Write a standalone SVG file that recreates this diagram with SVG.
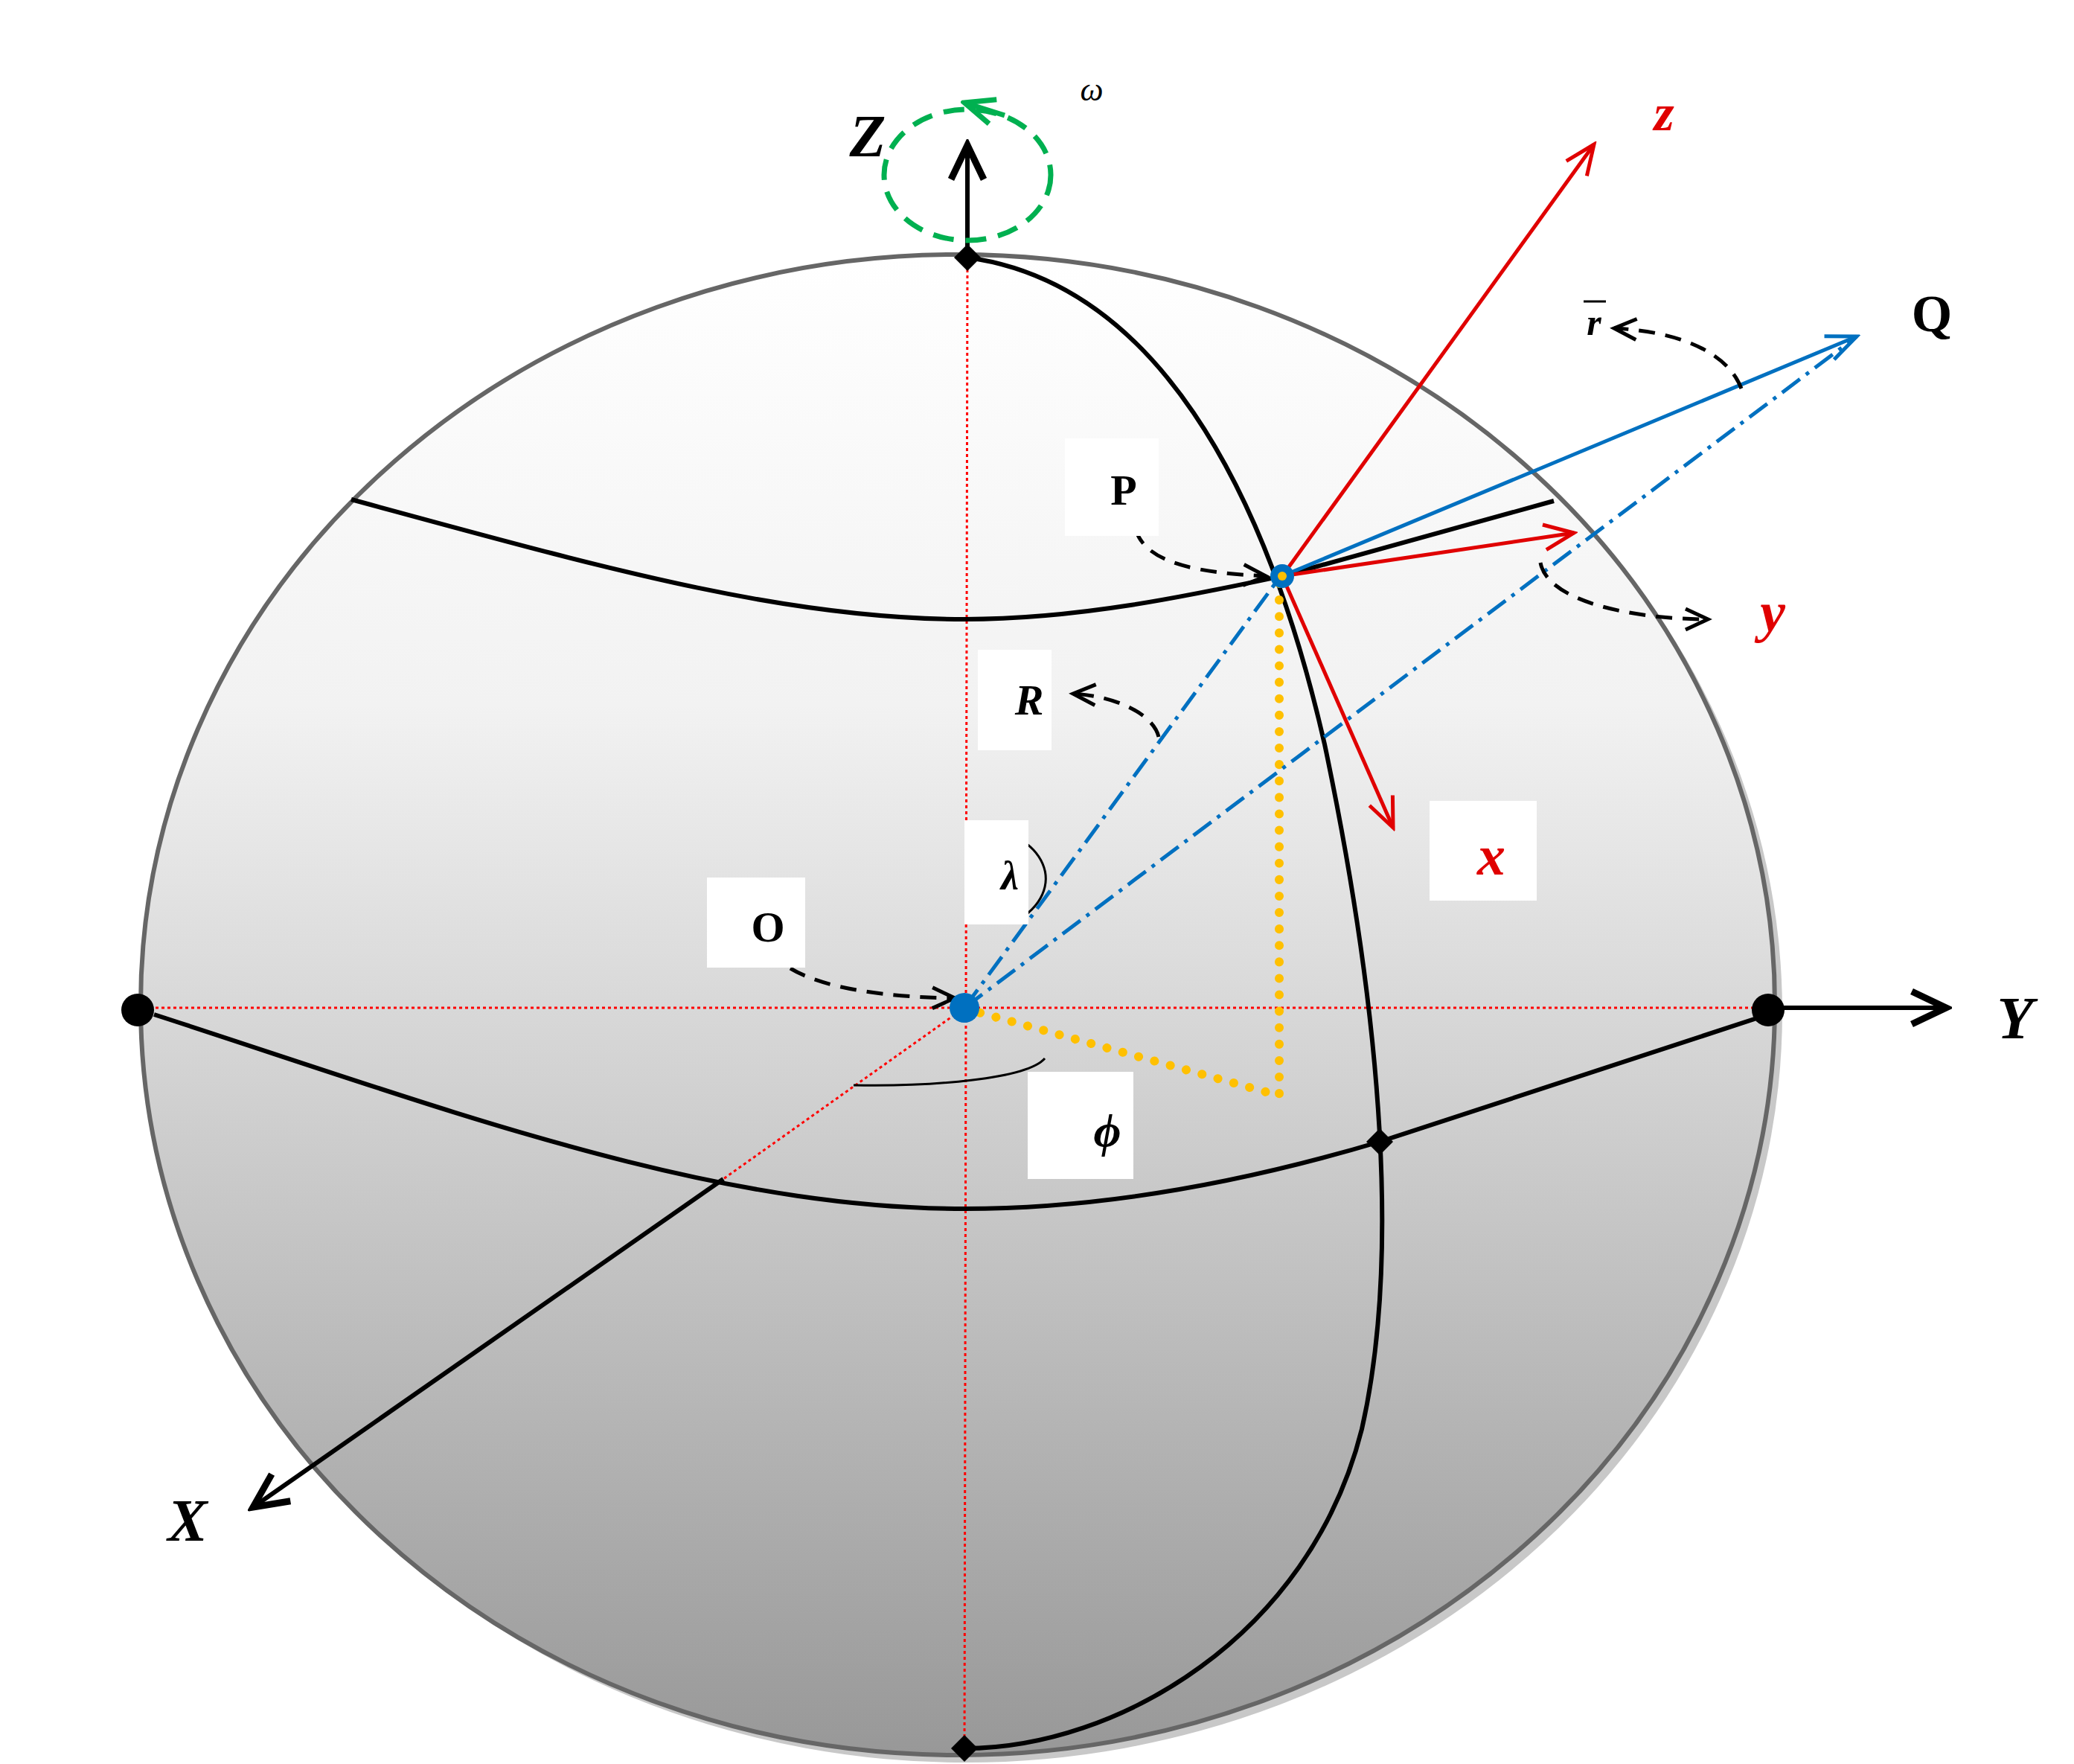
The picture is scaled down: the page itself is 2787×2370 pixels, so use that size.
<svg xmlns="http://www.w3.org/2000/svg" width="2787" height="2370" viewBox="0 0 2787 2370">
<defs>
<linearGradient id="g" x1="0" y1="0" x2="0" y2="1"><stop offset="0" stop-color="#ffffff"/><stop offset="0.3" stop-color="#f2f2f2"/><stop offset="1" stop-color="#989898"/></linearGradient>
<marker id="ar" markerWidth="50" markerHeight="50" refX="45" refY="25" orient="auto" markerUnits="userSpaceOnUse" viewBox="0 0 50 50"><path d="M5,8 L45,25 L5,42" fill="none" stroke="#e00000" stroke-width="5"/></marker>
<marker id="abl" markerWidth="50" markerHeight="50" refX="45" refY="25" orient="auto" markerUnits="userSpaceOnUse" viewBox="0 0 50 50"><path d="M5,8 L45,25 L5,42" fill="none" stroke="#0070c0" stroke-width="5"/></marker>
<marker id="ak" markerWidth="60" markerHeight="60" refX="52" refY="30" orient="auto" markerUnits="userSpaceOnUse" viewBox="0 0 60 60"><path d="M6,8 L52,30 L6,52" fill="none" stroke="#000" stroke-width="9"/></marker>
<marker id="ad" markerWidth="40" markerHeight="40" refX="34" refY="20" orient="auto" markerUnits="userSpaceOnUse" viewBox="0 0 40 40"><path d="M4,6 L34,20 L4,34" fill="none" stroke="#000" stroke-width="5"/></marker>
<marker id="ag" markerWidth="50" markerHeight="50" refX="45" refY="25" orient="auto" markerUnits="userSpaceOnUse" viewBox="0 0 50 50"><path d="M5,8 L45,25 L5,42" fill="none" stroke="#00b050" stroke-width="7"/></marker>
</defs>
<style>
.lbl{font-family:"Liberation Serif",serif;font-weight:bold;font-style:italic}
.box{fill:#fff}
.blk{fill:none;stroke:#000;stroke-width:6}
.dsh{fill:none;stroke:#000;stroke-width:5;stroke-dasharray:22,14}
.red{fill:none;stroke:#e00000;stroke-width:5;marker-end:url(#ar)}
.rdot{fill:none;stroke:#ff0000;stroke-width:3;stroke-dasharray:4,4}
.bdd{fill:none;stroke:#0070c0;stroke-width:5;stroke-dasharray:30,10,5,10}
.yel{fill:none;stroke:#ffc000;stroke-width:12;stroke-dasharray:0.1,22;stroke-linecap:round}
</style>
<rect width="2787" height="2370" fill="#fff"/>
<g id="sphere">
<ellipse cx="1297" cy="1360" rx="1098" ry="1008" fill="#c8c8c8"/>
<ellipse cx="1287" cy="1350" rx="1098" ry="1008" fill="url(#g)" stroke="#666" stroke-width="6"/>
</g>
<g id="connectors">
<path class="rdot" d="M1300,346 L1296,2349" stroke-width="7" stroke-dasharray="5,4"/>
<path class="rdot" d="M185,1354 L2376,1354"/>
<path class="rdot" d="M1296,1354 L972,1584"/>
<path class="blk" d="M1300,346 C1550,380 1700,650 1780,1000 C1860,1380 1880,1700 1830,1920 C1760,2200 1500,2349 1296,2349" stroke-width="5"/>
<path class="blk" d="M472,671 C800,760 1050,832 1296,832 C1450,832 1600,800 1723,774 L2088,673" stroke-width="8"/>
<path class="blk" d="M207,1363 C600,1490 950,1624 1296,1624 C1500,1624 1700,1580 1854,1534 L2376,1363" stroke-width="8"/>
<path class="blk" d="M972,1584 L340,2025" marker-end="url(#ak)" stroke-width="8"/>
<path class="blk" d="M1300,346 L1300,195" marker-end="url(#ak)" stroke-width="8"/>
<path class="blk" d="M2376,1354 L2615,1354" marker-end="url(#ak)" stroke-width="8"/>
<path class="yel" d="M1719,784 L1719,1472 L1300,1356"/>
<path class="bdd" d="M1296,1354 L1715,782"/>
<path class="bdd" d="M1296,1354 L2495,452"/>
<path d="M1723,774 L2495,452" fill="none" stroke="#0070c0" stroke-width="5" marker-end="url(#abl)"/>
<path class="red" d="M1723,774 L2142,194"/>
<path class="red" d="M1723,774 L2115,716"/>
<path class="red" d="M1723,774 L1872,1112"/>
<ellipse cx="1300" cy="235" rx="112" ry="88" fill="none" stroke="#00b050" stroke-width="7" stroke-dasharray="28,16"/>
<path d="M1350,155 L1296,138" fill="none" stroke="#00b050" stroke-width="7" marker-end="url(#ag)"/>
<path class="dsh" d="M1526,711 C1540,760 1620,770 1701,774" marker-end="url(#ad)"/>
<path class="dsh" d="M1557,990 C1550,960 1500,935 1442,932" marker-end="url(#ad)"/>
<path class="dsh" d="M1062,1301 C1110,1330 1200,1340 1283,1341" marker-end="url(#ad)"/>
<path class="dsh" d="M2340,522 C2320,470 2250,445 2169,441" marker-end="url(#ad)"/>
<path class="dsh" d="M2070,756 C2080,810 2200,832 2295,832" marker-end="url(#ad)"/>
<path d="M1300,1111 C1400,1110 1440,1190 1370,1235" fill="none" stroke="#000" stroke-width="3"/>
<path d="M1404,1422 C1380,1450 1250,1460 1147,1458" fill="none" stroke="#000" stroke-width="3"/>
</g>
<g id="points">
<path d="M1300,328 L1318,346 L1300,364 L1282,346Z"/>
<path d="M1296,2331 L1314,2349 L1296,2367 L1278,2349Z"/>
<path d="M1854,1516 L1872,1534 L1854,1552 L1836,1534Z"/>
<circle cx="185" cy="1357" r="22"/>
<circle cx="2376" cy="1357" r="22"/>
<circle cx="1296" cy="1354" r="20" fill="#0070c0"/>
<circle cx="1723" cy="774" r="16" fill="#0070c0"/>
<circle cx="1723" cy="774" r="6" fill="#ffc000"/>
</g>
<g id="labels">
<rect class="box" x="1431" y="589" width="126" height="131"/>
<rect class="box" x="1314" y="873" width="99" height="135"/>
<rect class="box" x="1921" y="1076" width="144" height="134"/>
<rect class="box" x="1296" y="1102" width="86" height="140"/>
<rect class="box" x="950" y="1179" width="132" height="121"/>
<rect class="box" x="1381" y="1440" width="142" height="144"/>
<text class="lbl" x="1166" y="210" font-size="80" text-anchor="middle">Z</text>
<text x="1467" y="135" font-size="44" font-style="italic" font-family="Liberation Serif,serif" text-anchor="middle">ω</text>
<text class="lbl" x="2236" y="175" font-size="70" fill="#e00000" text-anchor="middle">z</text>
<text x="2596" y="445" font-size="70" font-weight="bold" font-family="Liberation Serif,serif" text-anchor="middle">Q</text>
<text class="lbl" x="2142" y="450" font-size="50" text-anchor="middle">r</text>
<path d="M2128,405 L2158,405" stroke="#000" stroke-width="3"/>
<text x="1510" y="678" font-size="58" font-weight="bold" font-family="Liberation Serif,serif" text-anchor="middle">P</text>
<text class="lbl" x="2382" y="848" font-size="76" fill="#e00000" text-anchor="middle">y</text>
<text class="lbl" x="1383" y="960" font-size="58" text-anchor="middle">R</text>
<text class="lbl" x="2004" y="1175" font-size="76" fill="#e00000" text-anchor="middle">x</text>
<text class="lbl" x="1357" y="1195" font-size="54" text-anchor="middle">λ</text>
<text x="1032" y="1265" font-size="58" font-weight="bold" font-family="Liberation Serif,serif" text-anchor="middle">O</text>
<text class="lbl" x="1488" y="1540" font-size="64" text-anchor="middle">ϕ</text>
<text class="lbl" x="2708" y="1395" font-size="80" text-anchor="middle">Y</text>
<text class="lbl" x="252" y="2070" font-size="80" text-anchor="middle">X</text>
</g>
</svg>
